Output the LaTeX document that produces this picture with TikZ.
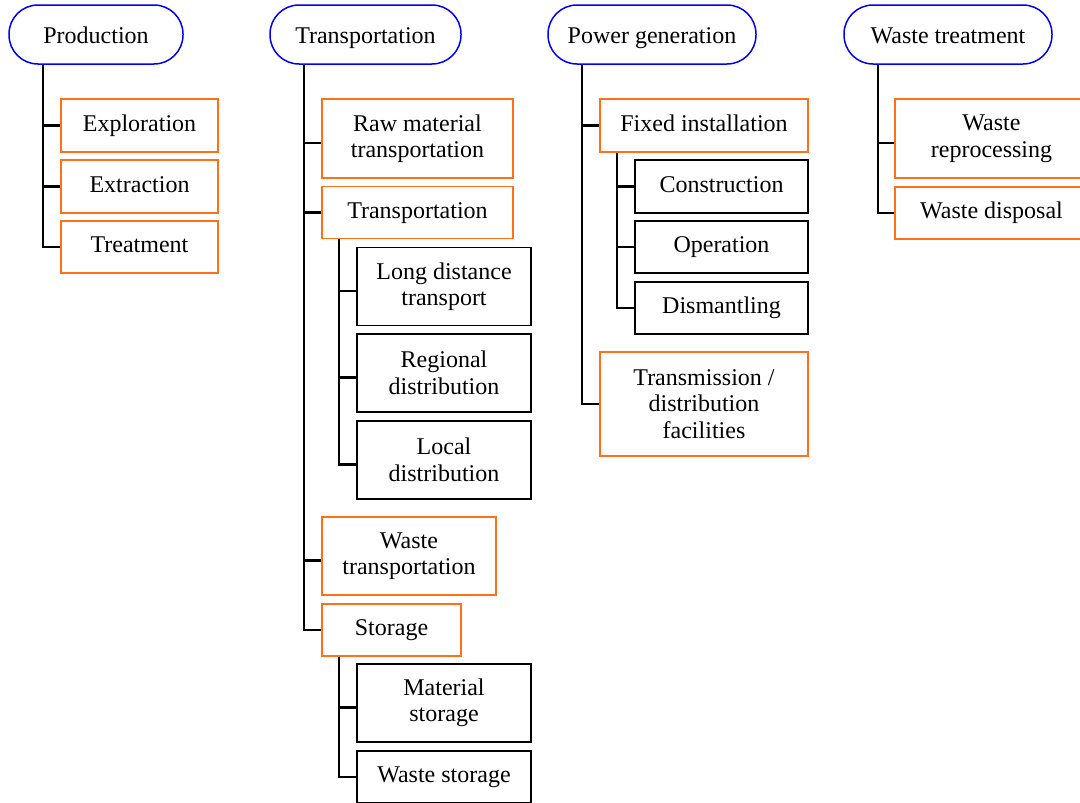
\documentclass[tikz,border=0pt]{standalone}
\usepackage{fontspec}
\setmainfont{Liberation Serif}
\usetikzlibrary{calc}
\definecolor{phaseblue}{RGB}{0,0,250}
\definecolor{stageorange}{RGB}{255,112,24}
\tikzset{
  % Life cycle phase (pill)
  phase/.style={draw=phaseblue, line width=1.5pt, rounded corners=29pt,
    minimum height=59pt, inner sep=0pt, align=center,
    text height=22pt, text depth=5pt},
  % Stage of a phase
  stage/.style={draw=stageorange, line width=1.5pt, inner sep=0pt,
    align=center, minimum height=52pt, text height=16.5pt, text depth=5.5pt},
  % Sub stage
  substage/.style={draw=black, line width=1.5pt, inner sep=0pt,
    align=center, minimum height=52pt, minimum width=174pt,
    text height=16.5pt, text depth=5.5pt},
  % Text on more than one line
  multi/.style={text height={}, text depth={},
    execute at begin node={\rule{0pt}{22pt}}},
  % Tree lines
  branch/.style={line width=2.2pt},
}

\begin{document}
\begin{tikzpicture}[x=1pt, y=-1pt, font=\fontsize{24}{26.5}\selectfont]
  \useasboundingbox (0,0) rectangle (1080,803);
  \clip (0,0) rectangle (1080,803);

  % Phases
  \node[phase, minimum width=174pt] (prod) at (96,34.5) {Production};
  \node[phase, minimum width=191pt] (trans) at (365.5,34.5) {Transportation};
  \node[phase, minimum width=208pt] (power) at (652,34.5) {Power generation};
  \node[phase, minimum width=208pt] (waste) at (948,34.5) {Waste treatment};

  % Production
  \node[stage, minimum width=157pt, minimum height=53pt] (expl) at (139.5,125.5) {Exploration};
  \node[stage, minimum width=157pt, minimum height=53pt] (extr) at (139.5,186.5) {Extraction};
  \node[stage, minimum width=157pt] (treat) at (139.5,247) {Treatment};

  % Transportation
  \node[stage, multi, minimum width=191pt, minimum height=79pt] (raw) at (417.5,138.5) {Raw material\\transportation};
  \node[stage, minimum width=191pt] (tran) at (417.5,212.5) {Transportation};
  \node[substage, multi, minimum height=78pt] (longd) at (444,286.5) {Long distance\\transport};
  \node[substage, multi, minimum height=78pt] (regd) at (444,373) {Regional\\distribution};
  \node[substage, multi, minimum height=78pt] (locd) at (444,460) {Local\\distribution};
  \node[stage, multi, minimum width=174pt, minimum height=78pt] (wtrans) at (409,556) {Waste\\transportation};
  \node[stage, minimum width=139pt] (stor) at (391.5,630) {Storage};
  \node[substage, multi, minimum height=78pt] (mats) at (444,703) {Material\\storage};
  \node[substage] (wsto) at (444,777) {Waste storage};

  % Power generation
  \node[stage, minimum width=208pt, minimum height=53pt] (fixed) at (704,125.5) {Fixed installation};
  \node[substage, minimum width=173pt, minimum height=53pt] (cons) at (721.5,186.5) {Construction};
  \node[substage, minimum width=173pt] (oper) at (721.5,247) {Operation};
  \node[substage, minimum width=173pt] (dism) at (721.5,308) {Dismantling};
  \node[stage, multi, minimum width=208pt, minimum height=104pt] (tdf) at (704,404) {Transmission /\\distribution\\facilities};

  % Waste treatment
  \node[stage, multi, minimum width=193pt, minimum height=79pt] (wrep) at (991.5,138.5) {Waste\\reprocessing};
  \node[stage, minimum width=193pt] (wdisp) at (991.5,213) {Waste disposal};

  % Tree roots
  \coordinate (prodroot) at ($(prod.south west)+(35,0)$);
  \coordinate (transroot) at ($(trans.south west)+(35,0)$);
  \coordinate (powerroot) at ($(power.south west)+(35,0)$);
  \coordinate (wasteroot) at ($(waste.south west)+(35,0)$);
  \coordinate (tranroot) at ($(tran.south west)+(18,0)$);
  \coordinate (storroot) at ($(stor.south west)+(18,0)$);
  \coordinate (fixedroot) at ($(fixed.south west)+(18,0)$);

  % Tree lines
  \foreach \n in {expl,extr,treat}
    \draw[branch] (prodroot) |- (\n.west);
  \draw[branch] (transroot) |- ([yshift=-4.5pt]raw.west);
  \draw[branch] (transroot) |- (tran.west);
  \draw[branch] (transroot) |- ([yshift=-4.5pt]wtrans.west);
  \draw[branch] (transroot) |- (stor.west);
  \foreach \n in {longd,regd,locd}
    \draw[branch] (tranroot) |- ([yshift=-4.5pt]\n.west);
  \draw[branch] (storroot) |- ([yshift=-4.5pt]mats.west);
  \draw[branch] (storroot) |- (wsto.west);
  \draw[branch] (powerroot) |- (fixed.west);
  \draw[branch] (powerroot) |- (tdf.west);
  \foreach \n in {cons,oper,dism}
    \draw[branch] (fixedroot) |- (\n.west);
  \draw[branch] (wasteroot) |- ([yshift=-4.5pt]wrep.west);
  \draw[branch] (wasteroot) |- (wdisp.west);
\end{tikzpicture}
\end{document}
